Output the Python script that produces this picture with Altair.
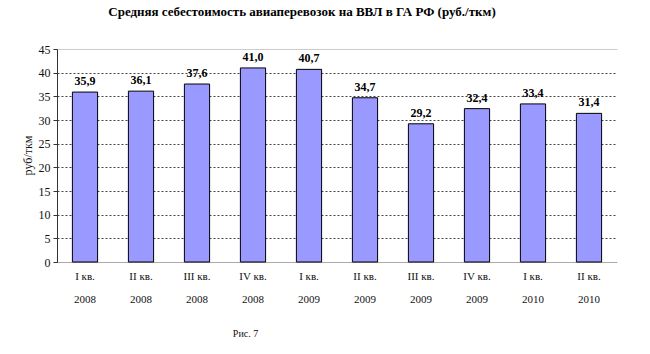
import altair as alt
import pandas as pd

quarters = ["I кв.\n2008", "II кв.\n2008", "III кв.\n2008", "IV кв.\n2008",
            "I кв.\n2009", "II кв.\n2009", "III кв.\n2009", "IV кв.\n2009",
            "I кв.\n2010", "II кв.\n2010"]
values = [35.9, 36.1, 37.6, 41.0, 40.7, 34.7, 29.2, 32.4, 33.4, 31.4]
labels = ["35,9", "36,1", "37,6", "41,0", "40,7", "34,7", "29,2", "32,4", "33,4", "31,4"]
y_ticks = [0, 5, 10, 15, 20, 25, 30, 35, 40, 45]

df = pd.DataFrame({"q": quarters, "v": values, "lab": labels})

FONT = "Liberation Serif"

x = alt.X("q:N", sort=None,
          scale=alt.Scale(paddingInner=0.55, paddingOuter=0.275),
          axis=alt.Axis(title="Рис. 7", labelAngle=0, ticks=False,
                        labelExpr="split(datum.label, '\\n')",
                        labelLineHeight=23, labelPadding=14, labelBaseline="middle",
                        labelFontSize=11, labelColor="#111",
                        domainColor="#aaaaaa", grid=False,
                        titleFontSize=10, titleFontWeight="normal",
                        titleX=188, titleY=71, titleAlign="center",
                        titleBaseline="middle", titleColor="#111"))

y = alt.Y("v:Q", scale=alt.Scale(domain=[0, 45], nice=False),
          axis=alt.Axis(title="руб/ткм", values=y_ticks, labelOverlap=False,
                        labelFontSize=12, labelColor="#111",
                        labelPadding=3, tickSize=4, tickColor="#333",
                        domainColor="#333",
                        grid=True,
                        gridColor={"condition": {"test": "datum.value === 45", "value": "#cccccc"}, "value": "#444444"},
                        gridDash={"condition": {"test": "datum.value === 45", "value": []}, "value": [2, 2]},
                        titleFontSize=12, titleFontWeight="normal",
                        titleAngle=270, titleX=-30, titleY=106, titleAlign="center",
                        titleBaseline="middle", titleColor="#111"))

base = alt.Chart(df).encode(x=x, y=y)
bars = base.mark_bar(color="#9999ff", stroke="#000000", strokeWidth=1)
text = base.mark_text(font=FONT, fontSize=12, fontWeight="bold", dy=-4,
                      baseline="bottom", color="#000").encode(text="lab:N")

chart = (bars + text).properties(
    width=560, height=213,
    title=alt.TitleParams("Средняя себестоимость авиаперевозок на ВВЛ в ГА РФ (руб./ткм)",
                          font=FONT, fontSize=13, fontWeight="bold", color="#000",
                          anchor="middle", dx=-35, offset=24),
    autosize=alt.AutoSizeParams(type="none"),
    padding={"left": 57, "top": 49, "right": 33, "bottom": 92},
).configure(background="white", font=FONT).configure_view(stroke=None).configure_axis(
    labelFont=FONT, titleFont=FONT
).configure_text(font=FONT).configure_title(font=FONT)

chart.save("out.html", embed_options={"renderer": "svg", "actions": False})
